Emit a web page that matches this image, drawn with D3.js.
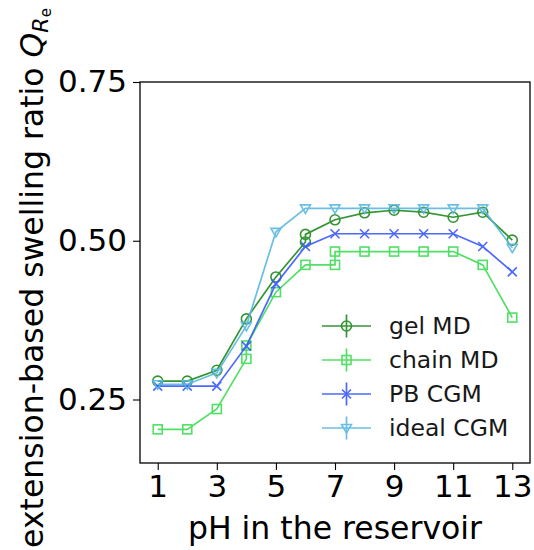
<!DOCTYPE html>
<html>
<head>
<meta charset="utf-8">
<script src="https://cdn.jsdelivr.net/npm/d3@7"></script>
<style>
  body { margin: 0; background: #fff; }
  text { font-family: "DejaVu Sans", sans-serif; fill: #000; }
</style>
</head>
<body>
<div class="chart"></div>
<script>
// values
const seriesNames = ['gel MD', 'chain MD', 'PB CGM', 'ideal CGM'];
const gelPH = [1, 2, 3, 4, 5, 6, 6, 7, 8, 9, 10, 11, 12, 13];
const gelQ = [0.279, 0.279, 0.296, 0.377, 0.443, 0.498, 0.510, 0.533, 0.544, 0.548, 0.545, 0.537, 0.545, 0.501];
const chainPH = [1, 2, 3, 4, 4, 5, 6, 7, 7, 8, 9, 10, 11, 12, 13];
const chainQ = [0.203, 0.203, 0.235, 0.314, 0.335, 0.419, 0.462, 0.462, 0.483, 0.483, 0.483, 0.483, 0.483, 0.462, 0.379];
const pbPH = [1, 2, 3, 4, 5, 6, 7, 8, 9, 10, 11, 12, 13];
const pbQ = [0.271, 0.271, 0.271, 0.334, 0.432, 0.491, 0.511, 0.511, 0.511, 0.511, 0.511, 0.491, 0.451];
const idealPH = [1, 2, 3, 4, 5, 6, 7, 8, 9, 10, 11, 12, 13];
const idealQ = [0.274, 0.274, 0.292, 0.366, 0.514, 0.551, 0.551, 0.551, 0.551, 0.551, 0.551, 0.551, 0.489];
const xTicks = [1, 3, 5, 7, 9, 11, 13];
const yTicks = [0.25, 0.50, 0.75];

const width = 534, height = 550;
const margin = {top: 82, right: 4, bottom: 87, left: 140};

const svg = d3.select('.chart').append('svg')
    .attr('width', width)
    .attr('height', height);

const x = d3.scaleLinear().domain([0.4, 13.6]).range([margin.left, width - margin.right]);
const y = d3.scaleLinear().domain([0.15, 0.75]).range([height - margin.bottom, margin.top]);

const series = [
    {name: seriesNames[0], ph: gelPH, q: gelQ, color: '#1e8a1e', marker: 'circle'},
    {name: seriesNames[1], ph: chainPH, q: chainQ, color: '#3fdc55', marker: 'square'},
    {name: seriesNames[2], ph: pbPH, q: pbQ, color: '#3a58ff', marker: 'x'},
    {name: seriesNames[3], ph: idealPH, q: idealQ, color: '#5cb8e0', marker: 'tri'}
];

// open markers centred at 0,0
function drawMarker(g, type, color) {
    if (type === 'circle') {
        g.append('circle').attr('r', 5).attr('fill', 'none').attr('stroke', color).attr('stroke-width', 1.6);
    } else if (type === 'square') {
        g.append('rect').attr('x', -4.5).attr('y', -4.5).attr('width', 9).attr('height', 9)
            .attr('fill', 'none').attr('stroke', color).attr('stroke-width', 1.6);
    } else if (type === 'x') {
        g.append('path').attr('d', 'M-4.5,-4.5L4.5,4.5M-4.5,4.5L4.5,-4.5')
            .attr('stroke', color).attr('stroke-width', 1.6).attr('fill', 'none');
    } else {
        g.append('path').attr('d', 'M-5,-3.5L5,-3.5L0,5Z')
            .attr('fill', 'none').attr('stroke', color).attr('stroke-width', 1.6);
    }
}

// axes frame
svg.append('rect')
    .attr('x', margin.left).attr('y', margin.top)
    .attr('width', width - margin.right - margin.left)
    .attr('height', height - margin.bottom - margin.top)
    .attr('fill', 'none').attr('stroke', '#000').attr('stroke-width', 1.3);

const xAxis = svg.append('g')
    .attr('transform', `translate(0,${height - margin.bottom})`)
    .call(d3.axisBottom(x).tickValues(xTicks).tickSize(7).tickPadding(5).tickFormat(d3.format('d')));
const yAxis = svg.append('g')
    .attr('transform', `translate(${margin.left},0)`)
    .call(d3.axisLeft(y).tickValues(yTicks).tickSize(7).tickPadding(6).tickFormat(d3.format('.2f')));
[xAxis, yAxis].forEach(a => {
    a.select('.domain').remove();
    a.selectAll('.tick line').attr('stroke', '#000').attr('stroke-width', 1.1);
    a.selectAll('.tick text').style('font-size', '31px').style('font-family', '"DejaVu Sans", sans-serif');
});
xAxis.selectAll('.tick text').attr('dy', '0.72em');

// lines and markers
const line = d3.line().x(d => x(d[0])).y(d => y(d[1]));
series.forEach(s => {
    const pts = s.ph.map((p, i) => [p, s.q[i]]);
    const g = svg.append('g').attr('opacity', 0.9);
    g.append('path').datum(pts).attr('d', line)
        .attr('fill', 'none').attr('stroke', s.color).attr('stroke-width', 1.7);
    g.selectAll('g.m').data(pts).enter().append('g')
        .attr('class', 'm')
        .attr('transform', d => `translate(${x(d[0])},${y(d[1])})`)
        .each(function() { drawMarker(d3.select(this), s.marker, s.color); });
});

// legend (no frame), errorbar style handles
const legend = svg.append('g').attr('transform', 'translate(322,326)');
series.forEach((s, i) => {
    const row = legend.append('g').attr('transform', `translate(0,${i * 34})`).attr('opacity', 0.9);
    row.append('line').attr('x1', 0).attr('x2', 49).attr('y1', 0).attr('y2', 0)
        .attr('stroke', s.color).attr('stroke-width', 1.7);
    row.append('line').attr('x1', 24.5).attr('x2', 24.5).attr('y1', -11.5).attr('y2', 11.5)
        .attr('stroke', s.color).attr('stroke-width', 1.7);
    const m = row.append('g').attr('transform', 'translate(24.5,0)');
    drawMarker(m, s.marker, s.color);
    row.append('text').attr('x', 67).attr('y', 0).attr('dy', '0.36em')
        .style('font-size', '23.5px').text(s.name);
});

// axis labels
svg.append('text')
    .attr('x', (margin.left + width - margin.right) / 2)
    .attr('y', 539)
    .attr('text-anchor', 'middle')
    .style('font-size', '31.5px')
    .text('pH in the reservoir');

const yl = svg.append('text')
    .attr('transform', 'translate(43,278) rotate(-90)')
    .attr('text-anchor', 'middle')
    .style('font-size', '31.5px');
yl.append('tspan').text('extension-based swelling ratio ');
yl.append('tspan').style('font-style', 'italic').text('Q');
yl.append('tspan').style('font-style', 'italic').style('font-size', '22px').attr('dy', 5).text('R');
yl.append('tspan').style('font-size', '15px').attr('dy', 3).text('e');
</script>
</body>
</html>
